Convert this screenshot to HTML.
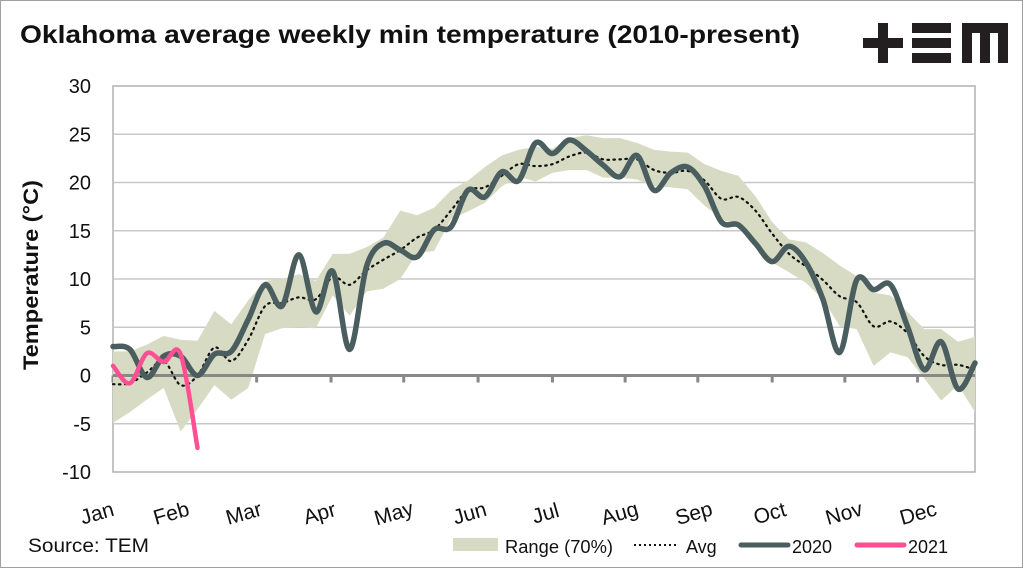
<!DOCTYPE html>
<html><head><meta charset="utf-8">
<style>
html,body{margin:0;padding:0;background:#fff;}
svg{display:block;font-family:"Liberation Sans",Arial,sans-serif;}
</style></head>
<body>
<svg id="chart" width="1024" height="569" viewBox="0 0 1024 569">
<rect x="0.5" y="0.5" width="1022" height="567" fill="#fff" stroke="#a0a0a0"/>
<text x="20" y="43" font-size="25" font-weight="bold" fill="#111" textLength="780" lengthAdjust="spacingAndGlyphs">Oklahoma average weekly min temperature (2010-present)</text>
<g fill="#231f20">
<rect x="863" y="38" width="40" height="10"/><rect x="878" y="23" width="10" height="40"/>
<rect x="912" y="23" width="39" height="10"/><rect x="912" y="38" width="39" height="10"/><rect x="912" y="53" width="39" height="10"/>
<path d="M962 23 H1008 V63 H998 V33 H990 V63 H980 V33 H972 V63 H962 Z"/>
</g>
<g id="grid"></g>
<g id="plot"></g>
<text transform="translate(38,275) rotate(-90)" text-anchor="middle" font-size="21" font-weight="bold" fill="#111" textLength="190" lengthAdjust="spacingAndGlyphs">Temperature (°C)</text>
<text x="28" y="552" font-size="19" fill="#111" textLength="121" lengthAdjust="spacingAndGlyphs">Source: TEM</text>
<g>
<g><rect x="453" y="538" width="45" height="13" fill="#d8dbc4"/><text x="505" y="553" font-size="18" fill="#111" textLength="108" lengthAdjust="spacingAndGlyphs">Range (70%)</text></g>
<g><line x1="634" y1="545" x2="677" y2="545" stroke="#111" stroke-width="2" stroke-dasharray="2 3"/><text x="686" y="553" font-size="18" fill="#111">Avg</text></g>
<g><line x1="741" y1="545" x2="788" y2="545" stroke="#4b5e5f" stroke-width="5" stroke-linecap="round"/><text x="792" y="553" font-size="18" fill="#111">2020</text></g>
<g><line x1="857" y1="545" x2="904" y2="545" stroke="#ff4f93" stroke-width="5" stroke-linecap="round"/><text x="908" y="553" font-size="18" fill="#111">2021</text></g>
</g>
</svg>
<script>
const yTicks=[30,25,20,15,10,5,0,-5,-10];
const months=["Jan","Feb","Mar","Apr","May","Jun","Jul","Aug","Sep","Oct","Nov","Dec"];
const monthWeeks=[0,4.3,8.5,12.9,17.2,21.6,26,30.3,34.6,39,43.3,47.6];
const rangeUpper=[2.5,2.5,3.2,4.1,3.7,3.6,6.7,5.3,7.8,9.8,10.0,10.5,9.8,12.6,12.6,13.3,14.3,17.1,16.6,17.4,19.2,20.2,21.6,22.8,23.4,23.7,23.5,24.6,24.9,24.6,24.6,24.1,23.4,23.2,23.1,21.9,21.2,20.7,18.6,15.9,14.1,13.8,12.7,11.4,10.3,8.6,8.3,6.6,4.8,4.8,3.5,4.0];
const rangeLower=[-4.9,-3.8,-2.5,-1.3,-5.8,-3.5,-1.0,-2.5,-1.3,4.3,4.9,5.0,4.9,8.3,6.2,8.7,9.0,10.0,12.7,12.9,16.2,17.0,17.9,19.6,20.6,20.1,21.0,21.3,21.3,20.5,20.5,20.3,19.6,19.5,19.3,17.6,16.2,15.5,13.4,11.7,10.7,9.6,7.9,5.1,4.8,1.0,2.4,1.9,-0.3,-2.6,-1.0,-3.8];
const avgValues=[-0.9,-0.8,0.3,1.5,-1.0,0.0,2.9,1.5,3.7,7.2,7.5,8.1,7.9,10.2,9.4,10.9,12.0,13.0,14.3,15.1,17.1,19.2,19.5,20.7,21.9,21.7,21.9,22.7,23.1,22.4,22.4,22.4,21.3,21.0,21.2,20.2,18.3,18.5,17.1,14.7,12.6,11.3,9.9,8.2,7.6,5.1,5.6,4.4,2.0,1.1,1.1,0.6];
const series2020=[3.0,2.7,-0.2,2.0,2.0,0.0,2.2,2.5,5.8,9.4,7.2,12.5,6.6,10.8,2.7,11.3,13.7,13.0,12.3,15.1,15.4,19.2,18.5,21.1,20.2,24.1,23.0,24.4,23.3,21.8,20.6,22.8,19.2,21.0,21.6,19.6,15.9,15.6,13.7,11.8,13.4,11.7,7.9,2.4,9.9,8.9,9.4,5.1,0.6,3.5,-1.4,1.3];
const series2021=[1.0,-0.8,2.3,1.4,2.2,-7.5];

const X0=113,X1=975,Y0=86,Y1=472,NW=52;
const xs=i=>X0+i*(X1-X0)/(NW-1);
const ys=v=>Y0+(30-v)*(Y1-Y0)/40;
const NS="http://www.w3.org/2000/svg";
const grid=document.getElementById('grid'),plot=document.getElementById('plot');
function mk(tag,attrs,parent){const e=document.createElementNS(NS,tag);for(const k in attrs)e.setAttribute(k,attrs[k]);parent.appendChild(e);return e;}

const frame=mk('rect',{x:X0,y:Y0,width:X1-X0,height:Y1-Y0,fill:'none',stroke:'#b0b0b0','stroke-width':1.5},grid);


yTicks.forEach(v=>{
  if(v!==30&&v!==-10&&v!==0){const l=mk('line',{x1:X0,x2:X1,y1:ys(v),y2:ys(v),stroke:'#c8c8c8','stroke-width':1.5},grid);
  
  }
  const t=mk('text',{x:91,y:ys(v)+7,'text-anchor':'end','font-size':20,fill:'#111'},grid);
  t.textContent=v;
  
  
});
months.forEach((m,i)=>{
  const x=xs(monthWeeks[i]);
  if(i!==1){const tk=mk('line',{x1:x,x2:x,y1:ys(0),y2:ys(0)+7,stroke:'#888','stroke-width':3},grid);
  
  }
  const t=mk('text',{x:0,y:0,'text-anchor':'middle','font-size':21,fill:'#111',transform:`translate(${x-14+i*1.5},${520}) rotate(-16)`},grid);
  t.textContent=m;
  
  
});
let d='M'+rangeUpper.map((v,i)=>xs(i)+' '+ys(v)).join(' L');
for(let i=NW-1;i>=0;i--)d+=' L'+xs(i)+' '+ys(rangeLower[i]);
const band=mk('path',{d:d+'Z',fill:'#d8dbc4'},plot);


const zl=mk('line',{x1:X0,x2:X1,y1:ys(0),y2:ys(0),stroke:'#888','stroke-width':3},plot);


function smooth(vals){
  const p=vals.map((v,i)=>[xs(i),ys(v)]);
  let s='M'+p[0][0]+' '+p[0][1];
  for(let i=0;i<p.length-1;i++){
    const p0=p[Math.max(0,i-1)],p1=p[i],p2=p[i+1],p3=p[Math.min(p.length-1,i+2)];
    const c1=[p1[0]+(p2[0]-p0[0])/6,p1[1]+(p2[1]-p0[1])/6],c2=[p2[0]-(p3[0]-p1[0])/6,p2[1]-(p3[1]-p1[1])/6];
    s+=` C${c1[0]} ${c1[1]} ${c2[0]} ${c2[1]} ${p2[0]} ${p2[1]}`;
  }
  return s;
}
const avg=mk('path',{d:smooth(avgValues),fill:'none',stroke:'#111','stroke-width':2.2,'stroke-dasharray':'1.5 4.5','stroke-linecap':'round'},plot);


const l20=mk('path',{d:smooth(series2020),fill:'none',stroke:'#4b5e5f','stroke-width':5.5,'stroke-linejoin':'round','stroke-linecap':'round'},plot);


const l21=mk('path',{d:smooth(series2021),fill:'none',stroke:'#ff4f93','stroke-width':4.5,'stroke-linejoin':'round','stroke-linecap':'round'},plot);


</script>
</body></html>
